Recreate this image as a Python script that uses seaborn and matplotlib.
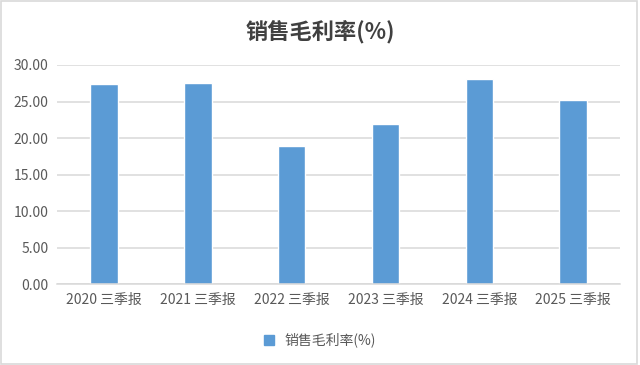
import matplotlib
matplotlib.use("Agg")
import matplotlib.pyplot as plt
import seaborn as sns
import pandas as pd
from matplotlib.patches import Rectangle

categories = ["2020 三季报", "2021 三季报", "2022 三季报", "2023 三季报", "2024 三季报", "2025 三季报"]
values = [27.40, 27.54, 18.87, 21.89, 28.08, 25.21]
yticks = [0, 5, 10, 15, 20, 25, 30]
series_name = "销售毛利率(%)"
title = "销售毛利率(%)"

sns.set_theme(style="white")
plt.rcParams['font.family'] = ['Noto Sans CJK SC', 'DejaVu Sans']

df = pd.DataFrame({"cat": categories, "val": values, "series": series_name})

fig = plt.figure(figsize=(6.4, 3.65), dpi=100)
ax = fig.add_axes([0.089, 0.221, 0.880, 0.601])
sns.barplot(data=df, x="cat", y="val", hue="series", palette=["#5B9BD5"],
            width=0.295, ax=ax, legend=False, saturation=1)

ax.set_ylim(0, 30)
ax.set_xlim(-0.5, len(categories) - 0.5)
ax.set_yticks(yticks)
ax.set_yticklabels([f"{v:.2f}" for v in yticks])
ax.set_xlabel("")
ax.set_ylabel("")
ax.yaxis.grid(True, color="#D9D9D9", linewidth=1.1)
ax.set_axisbelow(True)
for s in ["left", "right", "top"]:
    ax.spines[s].set_visible(False)
ax.spines["bottom"].set_color("#D9D9D9")
ax.spines["bottom"].set_linewidth(1.1)
ax.tick_params(axis="both", length=0, labelsize=10, labelcolor="#595959", pad=6)

fig.text(0.5, 0.914, title, ha="center", va="center", fontsize=16,
         fontweight="bold", color="#404040")

handle = Rectangle((0, 0), 1, 1, color="#5B9BD5")
fig.legend([handle], [series_name], loc="center", bbox_to_anchor=(0.5, 0.068),
           frameon=False, fontsize=10, labelcolor="#595959",
           handlelength=0.7, handleheight=0.7, handletextpad=0.8)

fig.add_artist(Rectangle((0.002, 0.004), 0.994, 0.992, transform=fig.transFigure,
                         fill=False, edgecolor="#D9D9D9", linewidth=1.2))

fig.savefig("out.png", dpi=100, facecolor="white")
